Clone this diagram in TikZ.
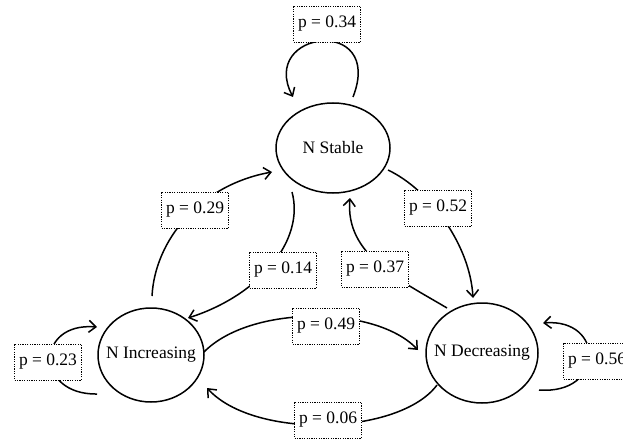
\documentclass[tikz,border=0pt]{standalone}
\usepackage{fontspec}
\setmainfont{Liberation Serif}
\usetikzlibrary{shapes.geometric,arrows.meta}
\begin{document}
\begin{tikzpicture}[x=1pt,y=-1pt,
  txt/.style={font=\fontsize{17.5}{20}\selectfont},
  state/.style={draw,ellipse,line width=1.5pt,inner sep=0pt},
  prob/.style={draw,dash pattern=on 1.2pt off 1.2pt,line width=0.8pt,fill=white,inner xsep=4.5pt,minimum height=36pt,txt},
  link/.style={line width=1.5pt,-{Straight Barb[length=7pt,width=12pt]}}]
\useasboundingbox (0,0) rectangle (623,441);
\clip (0,0) rectangle (623,441);
% states
\node[state,minimum width=114pt,minimum height=90pt,label={[txt]center:N Stable}] (stable) at (333,148) {};
\node[state,minimum width=106pt,minimum height=94pt,label={[txt]center:N Increasing}] (inc) at (151,355) {};
\node[state,minimum width=112pt,minimum height=100pt,label={[txt]center:N Decreasing}] (dec) at (482,353) {};
% connectors
\draw[link] ([shift={(20,-51)}]stable.center) .. controls (385,15) and (258,30) .. ([shift={(-40,-51)}]stable.center);
\draw[link] ([shift={(1,-59)}]inc.center) .. controls (155,240) and (200,185) .. ([shift={(-61,24)}]stable.center);
\draw[link] ([shift={(-41,44)}]stable.center) .. controls (305,240) and (260,295) .. ([shift={(37,-37)}]inc.center);
\draw[link] ([shift={(-35,-45)}]dec.center) .. controls (400,280) and (345,255) .. ([shift={(17,50)}]stable.center);
\draw[link] ([shift={(55,22)}]stable.center) .. controls (430,190) and (470,245) .. ([shift={(-9,-55)}]dec.center);
\draw[link] ([shift={(53,-3)}]inc.center) .. controls (250,305) and (375,305) .. ([shift={(-64,-3)}]dec.center);
\draw[link] ([shift={(-45,32)}]dec.center) .. controls (400,435) and (255,440) .. ([shift={(56,33)}]inc.center);
\draw[link] ([shift={(-54,39)}]inc.center) .. controls (35,395) and (35,322) .. ([shift={(-54,-28)}]inc.center);
\draw[link] ([shift={(57,37)}]dec.center) .. controls (605,395) and (605,318) .. ([shift={(61,-30)}]dec.center);
% probabilities
\node[prob] (p34) at (327,24) {p = 0.34};
\node[prob] (p29) at (195,210) {p = 0.29};
\node[prob] (p14) at (283,270) {p = 0.14};
\node[prob] (p37) at (375,269) {p = 0.37};
\node[prob] (p52) at (438,208) {p = 0.52};
\node[prob] (p49) at (326,326) {p = 0.49};
\node[prob] (p06) at (328,420) {p = 0.06};
\node[prob] (p23) at (48,362) {p = 0.23};
\node[prob] (p56) at (597,361) {p = 0.56};
\end{tikzpicture}
\end{document}
